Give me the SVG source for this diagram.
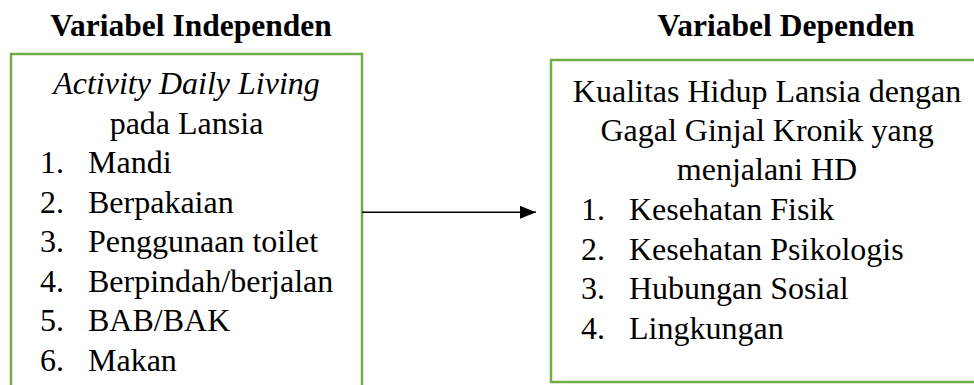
<svg xmlns="http://www.w3.org/2000/svg" width="974" height="385" viewBox="0 0 974 385">
<defs>
<marker id="ah" markerWidth="16" markerHeight="13" refX="16" refY="6.5" orient="auto" markerUnits="userSpaceOnUse">
<path d="M0,0 L16,6.5 L0,13 Z" fill="#000"/>
</marker>
</defs>
<rect width="974" height="385" fill="#fff"/>
<g id="title-independen"><text font-family="Liberation Serif" font-size="31.5" font-weight="bold" text-anchor="middle" x="191" y="36">Variabel Independen</text></g>
<g id="title-dependen"><text font-family="Liberation Serif" font-size="31.5" font-weight="bold" text-anchor="middle" x="786" y="36">Variabel Dependen</text></g>
<g id="node-independen" font-family="Liberation Serif" font-size="32" fill="#000">
<rect x="11" y="54" width="351" height="340" fill="none" stroke="#70AD47" stroke-width="2.5"/>
<text text-anchor="middle" font-style="italic" x="186.5" y="94">Activity Daily Living</text>
<text text-anchor="middle" x="186.5" y="133.5">pada Lansia</text>
<text x="40" y="173">1.</text><text x="88" y="173">Mandi</text>
<text x="40" y="212.5">2.</text><text x="88" y="212.5">Berpakaian</text>
<text x="40" y="252">3.</text><text x="88" y="252">Penggunaan toilet</text>
<text x="40" y="291.5">4.</text><text x="88" y="291.5">Berpindah/berjalan</text>
<text x="40" y="331">5.</text><text x="88" y="331">BAB/BAK</text>
<text x="40" y="370.5">6.</text><text x="88" y="370.5">Makan</text>
</g>
<g id="node-dependen" font-family="Liberation Serif" font-size="32" fill="#000">
<rect x="551" y="60" width="432" height="322" fill="none" stroke="#70AD47" stroke-width="2.5"/>
<text text-anchor="middle" x="767" y="101.5">Kualitas Hidup Lansia dengan</text>
<text text-anchor="middle" x="767" y="140.5">Gagal Ginjal Kronik yang</text>
<text text-anchor="middle" x="767" y="180">menjalani HD</text>
<text x="581" y="220">1.</text><text x="629" y="220">Kesehatan Fisik</text>
<text x="581" y="259.5">2.</text><text x="629" y="259.5">Kesehatan Psikologis</text>
<text x="581" y="299">3.</text><text x="629" y="299">Hubungan Sosial</text>
<text x="581" y="338.5">4.</text><text x="629" y="338.5">Lingkungan</text>
</g>
<g id="connectors">
<line x1="362" y1="212.3" x2="536" y2="212.3" stroke="#000" stroke-width="1.5" marker-end="url(#ah)"/>
</g>
</svg>
